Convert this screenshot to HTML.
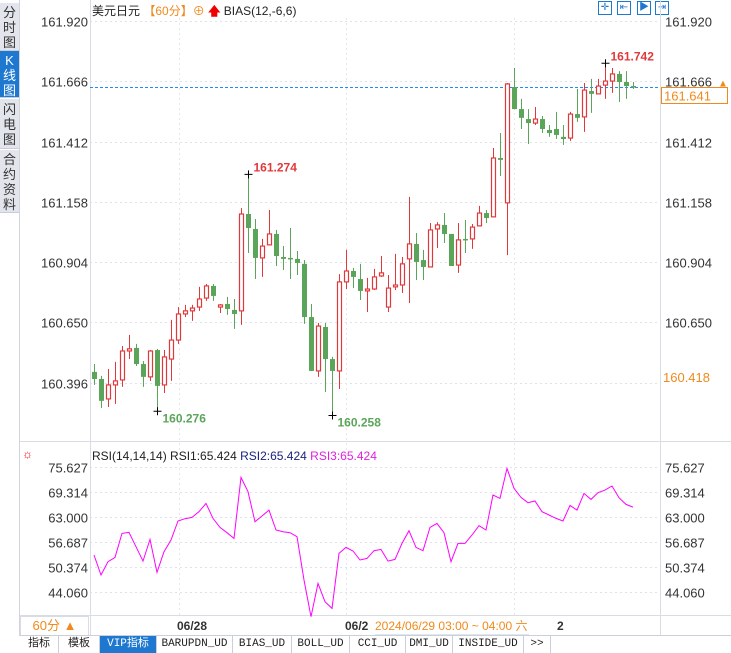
<!DOCTYPE html>
<html><head><meta charset="utf-8">
<style>
*{margin:0;padding:0;box-sizing:border-box}
body{width:731px;height:653px;overflow:hidden;background:#fff;font-family:"Liberation Sans","Noto Sans CJK SC",sans-serif;position:relative}
.abs{position:absolute}
.side{left:0;width:19px;background:#e3e5ec;color:#333;font-size:13px;line-height:15px;text-align:center;border-bottom:1px solid #c8ccd6}
.side.on{background:#1e78d0;color:#fff}
.tab{position:absolute;top:636px;height:17px;border-right:1px solid #c9cfdb;font-family:"Liberation Mono","Noto Sans CJK SC",monospace;font-size:11px;line-height:17px;text-align:center;color:#222;background:#fff}
.ic{position:absolute;top:1px;width:14px;height:14px;border:1.5px solid #1e78d0;color:#1e78d0;font-size:10px;line-height:11px;text-align:center}
</style></head><body>
<div class="abs side" style="top:3px;height:48px;padding-top:2px">分<br>时<br>图</div>
<div class="abs side on" style="top:51px;height:47px;padding-top:2px">K<br>线<br>图</div>
<div class="abs side" style="top:99px;height:50px;padding-top:3px">闪<br>电<br>图</div>
<div class="abs side" style="top:150px;height:63px;padding-top:2px">合<br>约<br>资<br>料</div>
<div class="abs" style="left:19px;top:0;width:1px;height:636px;background:#d0d4dc"></div>

<div class="abs" style="left:92px;top:2px;font-size:12px;color:#222;white-space:nowrap">美元日元 <span style="color:#f08a1c">【60分】</span><span style="color:#f08a1c">⊕</span> <span style="color:#e00;font-weight:bold">🡅</span> BIAS(12,-6,6)</div>
<div class="ic" style="left:598px">✛</div>
<div class="ic" style="left:617px">⇤</div>
<div class="ic" style="left:637px">▶</div>
<div class="ic" style="left:655px">⇥</div>

<svg class="abs" style="left:0;top:0" width="731" height="653" id="chart"></svg>

<div class="abs" style="left:20px;top:616px;width:69px;height:20px;border:1px solid #d8dce4;color:#f08a1c;font-size:13px;line-height:18px;text-align:center">60分 ▲</div>
<div class="abs" style="left:375px;top:617px;color:#f08a1c;font-size:12px;background:#fff;border-bottom:1px solid #e0e6ee;padding-right:2px">2024/06/29 03:00 ~ 04:00 六</div>

<div class="tab" style="left:20px;width:39px">指标</div>
<div class="tab" style="left:59px;width:41px">模板</div>
<div class="tab" style="left:100px;width:57px;background:#1e78d0;color:#fff">VIP指标</div>
<div class="tab" style="left:157px;width:76px">BARUPDN_UD</div>
<div class="tab" style="left:233px;width:59px">BIAS_UD</div>
<div class="tab" style="left:292px;width:58px">BOLL_UD</div>
<div class="tab" style="left:350px;width:56px">CCI_UD</div>
<div class="tab" style="left:406px;width:47px">DMI_UD</div>
<div class="tab" style="left:453px;width:71px">INSIDE_UD</div>
<div class="tab" style="left:524px;width:27px">&gt;&gt;</div>
<div class="abs" style="left:20px;top:635px;width:711px;height:1px;background:#c9cfdb"></div>

<script>
const opens=[160.442,160.412,160.328,160.387,160.408,160.530,160.543,160.475,160.421,160.534,160.387,160.496,160.576,160.686,160.699,160.715,160.753,160.804,160.715,160.728,160.703,160.699,161.107,161.044,160.922,160.977,161.023,160.926,160.922,160.918,160.897,160.673,160.446,160.631,160.496,160.446,160.821,160.867,160.833,160.783,160.791,160.846,160.715,160.800,160.808,160.918,160.981,160.913,160.884,161.044,161.061,161.023,160.892,161.002,161.002,161.057,161.111,161.095,161.343,161.154,161.642,161.549,161.507,161.490,161.507,161.461,161.465,161.432,161.427,161.528,161.516,161.625,161.613,161.650,161.667,161.697,161.663,161.646];
const closes=[160.412,160.320,160.387,160.404,160.530,160.539,160.475,160.421,160.530,160.383,160.505,160.576,160.686,160.699,160.711,160.749,160.804,160.762,160.724,160.707,160.686,161.107,161.048,160.922,160.972,161.023,160.930,160.918,160.918,160.901,160.673,160.446,160.635,160.496,160.446,160.821,160.867,160.842,160.783,160.791,160.842,160.859,160.795,160.808,160.897,160.981,160.905,160.884,161.040,161.061,161.023,160.888,160.998,160.998,161.052,161.111,161.090,161.343,161.335,161.655,161.549,161.512,161.490,161.507,161.465,161.448,161.440,161.423,161.528,161.512,161.629,161.613,161.646,161.667,161.697,161.663,161.646,161.641];
const highs=[160.475,160.425,160.454,160.484,160.551,160.598,160.560,160.488,160.534,160.539,160.534,160.661,160.715,160.724,160.724,160.800,160.812,160.812,160.728,160.758,160.749,161.132,161.274,161.086,161.002,161.124,161.040,160.972,161.048,160.951,160.913,160.728,160.648,160.648,160.505,160.854,160.956,160.880,160.897,160.838,160.876,160.930,160.850,160.939,160.926,161.179,161.027,160.956,161.069,161.073,161.111,161.023,161.069,161.082,161.065,161.141,161.124,161.385,161.448,161.659,161.722,161.592,161.549,161.558,161.520,161.482,161.537,161.482,161.537,161.634,161.659,161.676,161.676,161.742,161.722,161.709,161.709,161.663];
const lows=[160.387,160.290,160.294,160.307,160.379,160.496,160.467,160.379,160.404,160.276,160.353,160.404,160.560,160.673,160.657,160.699,160.741,160.741,160.690,160.682,160.623,160.640,160.943,160.833,160.842,160.977,160.888,160.871,160.833,160.850,160.644,160.446,160.421,160.357,160.258,160.370,160.791,160.795,160.745,160.694,160.787,160.842,160.694,160.787,160.774,160.732,160.829,160.829,160.884,160.964,160.985,160.888,160.859,160.943,160.960,161.057,161.069,161.095,161.267,160.934,161.549,161.465,161.402,161.482,161.448,161.432,161.423,161.398,161.415,161.495,161.453,161.533,161.613,161.592,161.617,161.579,161.592,161.634];
const rsi=[53.32,48.27,51.64,52.73,58.79,59.04,55.43,51.80,57.28,48.94,54.16,57.11,61.91,62.50,62.83,64.26,66.37,62.58,60.31,58.96,57.53,72.93,69.31,61.74,63.17,64.68,59.63,59.21,58.96,57.95,47.01,37.75,46.16,41.53,39.85,53.74,55.26,54.33,52.06,52.48,54.41,54.75,51.80,52.22,56.27,59.46,55.26,54.41,60.31,61.32,58.96,51.64,56.27,56.27,58.37,60.73,59.63,68.47,67.63,75.21,70.16,67.88,66.54,66.96,64.26,63.42,62.58,61.91,65.86,64.68,68.89,67.38,69.06,69.73,70.75,67.80,66.11,65.42];
const priceTicks=[161.920,161.666,161.412,161.158,160.904,160.650,160.396];
const rightPriceTicks=[161.920,161.666,161.412,161.158,160.904,160.650];
const rsiTicks=[75.627,69.314,63.000,56.687,50.374,44.060];
const dateLabels=["06/28","06/2"];
const dateIdx=[12,36];
const lastPrice=161.641;
const crossPrice=160.418;
const extremes=[{i:22,v:161.274,hi:true},{i:73,v:161.742,hi:true},{i:9,v:160.276,hi:false},{i:34,v:160.258,hi:false}];

const NS="http://www.w3.org/2000/svg";
const svg=document.getElementById('chart');
const X0=90,X1=660;
const xOf=i=>94+i*7;
const yP=p=>21+(161.92-p)*237.4;
const yR=v=>466.7+(75.627-v)*3.96;
function mk(tag,attrs,txt){const e=document.createElementNS(NS,tag);for(const k in attrs)e.setAttribute(k,attrs[k]);if(txt!==undefined)e.textContent=txt;svg.appendChild(e);return e;}
const RED="#e0393c",GREEN="#5aa55a";

priceTicks.forEach(t=>{const y=Math.round(yP(t))+0.5;
 let g=mk('line',{x1:X0,x2:X1,y1:y,y2:y,stroke:'#dfe2e8','stroke-dasharray':'2,3'});
 
 
 let a=mk('text',{x:88,y:y+5,'text-anchor':'end','font-size':13,fill:'#333'},t.toFixed(3));
 
 
});
rightPriceTicks.forEach(t=>{const y=Math.round(yP(t))+0.5;
 let b=mk('text',{x:665,y:y+5,'font-size':13,fill:'#333'},t.toFixed(3));
 
 
});
rsiTicks.forEach(t=>{const y=Math.round(yR(t))+0.5;
 let g=mk('line',{x1:X0,x2:X1,y1:y,y2:y,stroke:'#dfe2e8','stroke-dasharray':'2,3'});
 
 
 let a=mk('text',{x:88,y:y+5,'text-anchor':'end','font-size':13,fill:'#333'},t.toFixed(3));
 
 
 let b=mk('text',{x:665,y:y+5,'font-size':13,fill:'#333'},t.toFixed(3));
 
 
});
[179,346,514].forEach(x=>{let v=mk('line',{x1:x+.5,x2:x+.5,y1:18,y2:615,stroke:'#e4e7ec','stroke-dasharray':'2,3'});
 
 });
[[X0+.5,0,X0+.5,636],[X1+.5,0,X1+.5,636],[20,441.5,731,441.5],[20,615.5,731,615.5]].forEach(l=>{let f=mk('line',{x1:l[0],y1:l[1],x2:l[2],y2:l[3],stroke:'#d8dce4'});
 
 });
dateLabels.forEach((d,k)=>{let t=mk('text',{x:xOf(dateIdx[k])-1,y:630,'font-size':12,'font-weight':'bold',fill:'#333'},d);
 
 });
let t2=mk('text',{x:557,y:630,'font-size':12,'font-weight':'bold',fill:'#333'},'2');



const ly=Math.round(yP(lastPrice))+0.5;
let ll=mk('line',{x1:X0,x2:X1,y1:ly,y2:ly,stroke:'#1a8cff','stroke-width':1,'stroke-dasharray':'3,2'});


let lb=mk('rect',{x:661.5,y:ly,width:66,height:16,fill:'#fff',stroke:'#f08a1c'});


let lt=mk('text',{x:664,y:ly+13,'font-size':13,fill:'#f08a1c'},lastPrice.toFixed(3));


let lc=mk('text',{x:718,y:ly-1,'font-size':10,fill:'#f08a1c'},'▲');


let ol=mk('text',{x:663,y:Math.round(yP(crossPrice))+4,'font-size':13,fill:'#f08a1c'},crossPrice.toFixed(3));



for(let i=0;i<opens.length;i++){
 const x=xOf(i),up=closes[i]>opens[i],c=up?RED:GREEN;
 const yo=yP(opens[i]),yc=yP(closes[i]),top=Math.min(yo,yc),bot=Math.max(yo,yc);
 let w=mk('line',{x1:x+.5,x2:x+.5,y1:yP(highs[i]),y2:yP(lows[i]),stroke:c,'stroke-width':1});
 
 
 let h=Math.max(bot-top,1.5);
 let b=up?mk('rect',{x:x-1.5,y:top,width:4,height:h,fill:'#fff',stroke:c,'stroke-width':1.2})
        :mk('rect',{x:x-2,y:top,width:5,height:h,fill:c});
 
 
}
extremes.forEach(e=>{const x=xOf(e.i)+.5,y=yP(e.v);
 let m=mk('path',{d:`M${x-4} ${y}H${x+4}M${x} ${y-4}V${y+4}`,stroke:'#000','stroke-width':1});
 
 
 let t=mk('text',{x:x+5,y:e.hi?y-3:y+11,'font-size':12,'font-weight':'bold',fill:e.hi?'#e0393c':'#5aa55a'},e.v.toFixed(3));
 
 
});

let sun=mk('text',{x:22,y:458,'font-size':12,fill:'#e00'},'☼');


let rh=mk('text',{x:92,y:460,'font-size':12,fill:'#222'});


rh.innerHTML='RSI(14,14,14) RSI1:65.424 <tspan fill="#1a237e">RSI2:65.424</tspan> <tspan fill="#e020e0">RSI3:65.424</tspan>';
let rp=mk('polyline',{points:rsi.map((v,i)=>xOf(i)+','+yR(v).toFixed(1)).join(' '),fill:'none',stroke:'#ff00ff','stroke-width':1});


</script>
</body></html>
